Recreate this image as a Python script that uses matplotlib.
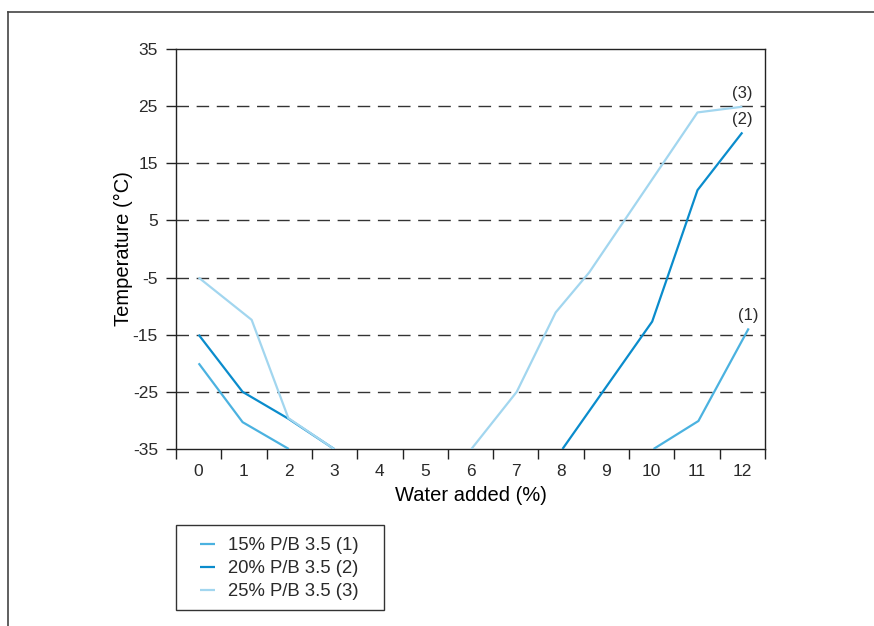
import numpy as np
import matplotlib
matplotlib.use("Agg")
import matplotlib.pyplot as plt
from matplotlib.lines import Line2D
from matplotlib.patches import Rectangle

plt.rcParams['font.family'] = ['Liberation Sans', 'DejaVu Sans']

# ---- data ----
x_labels = [str(i) for i in range(13)]
y_ticks = [-35, -25, -15, -5, 5, 15, 25, 35]

s1_x = [0, 0.97, 1.99, np.nan, 10.04, 11.03, 12.14]
s1_y = [-20, -30.3, -35, np.nan, -35, -30.1, -13.9]

s2_x = [0, 0.97, 1.98, 2.99, np.nan, 8.03, 10.01, 11.01, 12.0]
s2_y = [-15, -25, -29.7, -35, np.nan, -35, -12.7, 10.3, 20.4]

s3_x = [0, 1.17, 1.98, 2.99, np.nan, 6.02, 7.02, 7.88, 8.62, 11.01, 12.0]
s3_y = [-5, -12.4, -29.6, -35, np.nan, -35, -25, -11.1, -4.1, 23.9, 24.9]

series_labels = ['15% P/B 3.5 (1)', '20% P/B 3.5 (2)', '25% P/B 3.5 (3)']
end_tags = ['(1)', '(2)', '(3)']
colors = ['#4bb2e0', '#0a8ccc', '#a2d6ef']

W, H = 874, 626
fig = plt.figure(figsize=(W / 100, H / 100), dpi=100)
ax = fig.add_axes([176 / W, 1 - 449 / H, (765 - 176) / W, (449 - 49) / H])

text_col = '#2a2a2a'
lines = []
for xs, ys, c, lab in zip([s1_x, s2_x, s3_x], [s1_y, s2_y, s3_y], colors, series_labels):
    ln, = ax.plot(xs, ys, color=c, lw=1.6, label=lab, zorder=3, solid_capstyle='butt')
    lines.append(ln)

# end annotations
for xs, ys, tag in zip([s1_x, s2_x, s3_x], [s1_y, s2_y, s3_y], end_tags):
    ax.annotate(tag, xy=(xs[-1], ys[-1]), xytext=(0, 4), textcoords='offset points',
                ha='center', va='bottom', fontsize=12, color=text_col)

ax.set_xlim(-0.5, 12.5)
ax.set_ylim(-35, 35)

ax.set_xticks(np.arange(-0.5, 13, 1))
ax.set_xticklabels([])
ax.set_xticks(np.arange(13), minor=True)
ax.set_xticklabels(x_labels, minor=True)
ax.tick_params(axis='x', which='major', length=7, width=1, color='#222', direction='out')
ax.tick_params(axis='x', which='minor', length=0, pad=11, labelsize=12.5, labelcolor=text_col)

ax.set_yticks(y_ticks)
ax.set_yticklabels([str(v) for v in y_ticks])
ax.tick_params(axis='y', length=7, width=1, color='#222', pad=6, labelsize=12.5, labelcolor=text_col)

for v in y_ticks[1:-1]:
    ax.axhline(v, color='#333333', lw=1.0, linestyle=(0, (9, 5.5)), zorder=1)

for s in ax.spines.values():
    s.set_color('#222222')
    s.set_linewidth(1.0)

ax.set_xlabel('Water added (%)', fontsize=14.5, color='#000', labelpad=5)
ax.set_ylabel('Temperature (°C)', fontsize=14.5, color='#000', labelpad=0)

# legend (frame drawn separately)
leg = fig.legend(handles=lines, labels=series_labels, loc='upper left',
                 bbox_to_anchor=(200 / W, 1 - 537 / H), frameon=False,
                 borderpad=0, borderaxespad=0, fontsize=13.3, handlelength=0.8,
                 handletextpad=0.7, labelspacing=0.33)
for t in leg.get_texts():
    t.set_color(text_col)
fig.add_artist(Rectangle((176 / W, 1 - 610 / H), (384 - 176) / W, (610 - 525) / H,
                         transform=fig.transFigure, fill=False, edgecolor='#333333', lw=1.0))

# outer frame lines
fig.add_artist(Line2D([8 / W, 1.0], [1 - 12 / H, 1 - 12 / H], transform=fig.transFigure,
                      color='#444444', lw=1.2))
fig.add_artist(Line2D([8 / W, 8 / W], [1 - 12 / H, 0], transform=fig.transFigure,
                      color='#444444', lw=1.2))

fig.savefig('out.png', dpi=100)
